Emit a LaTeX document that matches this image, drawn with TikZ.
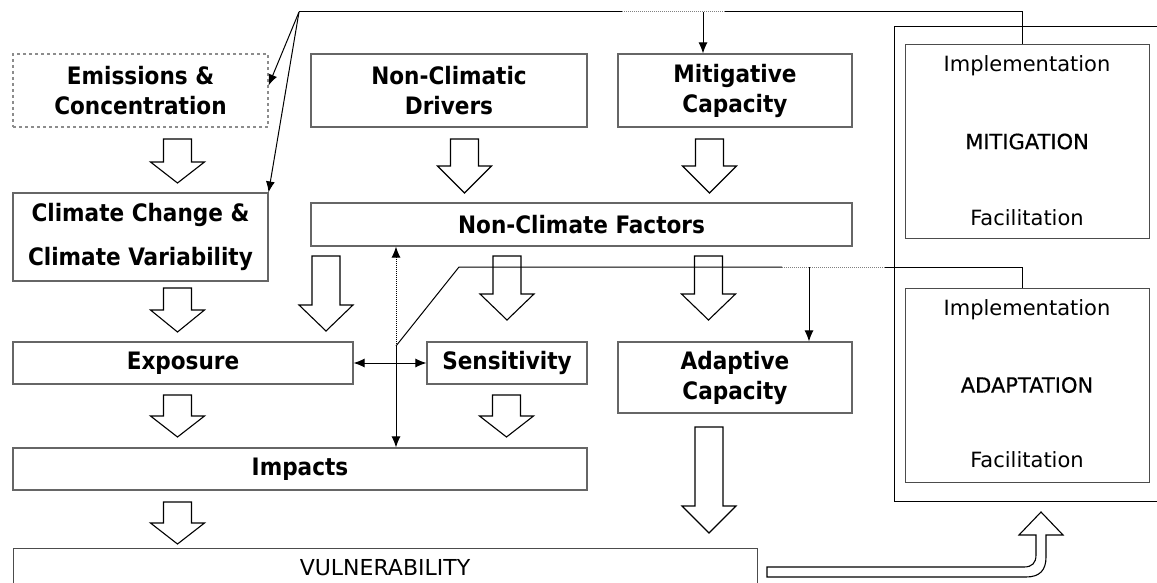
\documentclass[tikz,border=0pt]{standalone}
\usepackage{fontspec}
\newfontfamily\labelfont{DejaVu Sans Condensed Bold}
\newfontfamily\notefont{DejaVu Sans}
\newfontfamily\headfont[FakeBold=0.6]{DejaVu Sans}
\usetikzlibrary{arrows.meta}
\tikzset{
	factor/.style={draw=black!60,line width=1.1pt,inner sep=0pt,align=center,font=\labelfont\fontsize{24}{30}\selectfont},%
	pending/.style={factor,draw=black!45,dashed},%
	response/.style={draw=black!70,line width=1pt,inner sep=0pt,font=\headfont\fontsize{21}{25}\selectfont},%
	note/.style={inner sep=0pt,font=\notefont\fontsize{21}{25}\selectfont},%
	blockarrow/.style={line width=1.1pt,line join=miter},%
	plain/.style={line width=1pt},%
	faded/.style={line width=1pt,densely dotted,black!50},%
	link/.style={line width=1pt,-{Latex[length=11pt,width=9pt]}},%
	twoway/.style={line width=1pt,{Latex[length=11pt,width=9pt]}-{Latex[length=11pt,width=9pt]}},%
}
\newcommand{\hollowdown}[4]{\draw[blockarrow] ({#1-14},#2) -- ({#1+14},#2) -- ({#1+14},#3) -- ({#1+27},#3) -- (#1,#4) -- ({#1-27},#3) -- ({#1-14},#3) -- cycle;}

\begin{document}
\begin{tikzpicture}[%
		x=1pt,y=-1pt,%
		]
		\useasboundingbox (0,0) rectangle (1157,583);
		\node[pending,minimum width=255pt,minimum height=73pt] (emis) at (140.5,90.5) {Emissions \&\\Concentration};
		\node[factor,minimum width=276pt,minimum height=73pt] (drivers) at (449,90.5) {Non-Climatic\\Drivers};
		\node[factor,minimum width=234pt,minimum height=73pt] (mitcap) at (735,90.5) {Mitigative\\Capacity};
		\node[factor,minimum width=255pt,minimum height=88pt,font=\labelfont\fontsize{24}{44}\selectfont] (climate) at (140.5,237) {Climate Change \&\\Climate Variability};
		\node[factor,minimum width=541pt,minimum height=43pt] (factors) at (581.5,224.5) {Non-Climate Factors};
		\node[factor,minimum width=340pt,minimum height=42pt] (exposure) at (183,363) {Exposure};
		\node[factor,minimum width=160pt,minimum height=42pt] (sensitivity) at (507,363) {Sensitivity};
		\node[factor,minimum width=234pt,minimum height=71pt] (adcap) at (735,377.5) {Adaptive\\Capacity};
		\node[factor,minimum width=574pt,minimum height=42pt] (impacts) at (300,469) {Impacts};
		\node[response,minimum width=744pt,minimum height=40pt,font=\notefont\fontsize{22}{26}\selectfont] (vuln) at (385,568) {VULNERABILITY};
		\node[response,minimum width=244pt,minimum height=193pt] (mitig) at (1027,141.5) {MITIGATION};
		\node[note] (mitimpl) at (1027,66) {Implementation};
		\node[note] (mitfac) at (1027,218) {Facilitation};
		\node[response,minimum width=244pt,minimum height=194pt] (adapt) at (1027,385) {ADAPTATION};
		\node[note] (adimpl) at (1027,310) {Implementation};
		\node[note] (adfac) at (1027,460) {Facilitation};
		\draw[plain] (1160,27) -- (894,27) -- (894,501) -- (1160,501);
		\hollowdown{177.5}{139}{162}{183}
		\hollowdown{177.5}{288}{310}{332}
		\hollowdown{326}{256}{305}{331}
		\hollowdown{464.5}{139}{166}{193}
		\hollowdown{709.5}{139}{166}{193}
		\hollowdown{507}{256}{294}{320}
		\hollowdown{708.5}{256}{294}{320}
		\hollowdown{177.5}{395}{416}{437}
		\hollowdown{506.5}{395}{416}{437}
		\hollowdown{177.5}{502}{523}{544}
		\hollowdown{709}{427}{506}{533}
		\draw[blockarrow] (767,567) -- (1024,567) .. controls (1032,567) and (1036,563) .. (1036,555) -- (1036,535) -- (1019,535) -- (1041,512) -- (1063,535) -- (1046,535) -- (1046,557) .. controls (1046,570) and (1040,577) .. (1026,577) -- (767,577) -- cycle;
		\coordinate (topknot) at (299,12);
		\coordinate (topdrop) at (703,12);
		\coordinate (mitknee) at (1022,12);
		\draw[link] (topknot) -- ([yshift=5pt]emis.east);
		\draw[link] (topknot) -- (climate.north east);
		\draw[plain] (topknot) -- (622,12);
		\draw[faded] (622,12) -- (725,12);
		\draw[plain] (725,12) -- (mitknee) -- (mitknee |- mitig.north);
		\draw[link] (topdrop) -- (topdrop |- mitcap.north);
		\coordinate (lowknot) at (396,346);
		\coordinate (lowbend) at (459,267);
		\coordinate (addrop) at (809,267);
		\coordinate (adknee) at (1022,267);
		\draw[plain] (lowknot) -- (lowbend) -- (782,267);
		\draw[faded] (782,267) -- (885,267);
		\draw[plain] (885,267) -- (adknee) -- (adknee |- adapt.north);
		\draw[link] (addrop) -- (addrop |- adcap.north);
		\draw[link] (lowknot) -- (lowknot |- impacts.north);
		\draw[link,densely dotted] (lowknot) -- (lowknot |- factors.south);
		\draw[twoway] (exposure.east) -- (sensitivity.west);
	\end{tikzpicture}
\end{document}
